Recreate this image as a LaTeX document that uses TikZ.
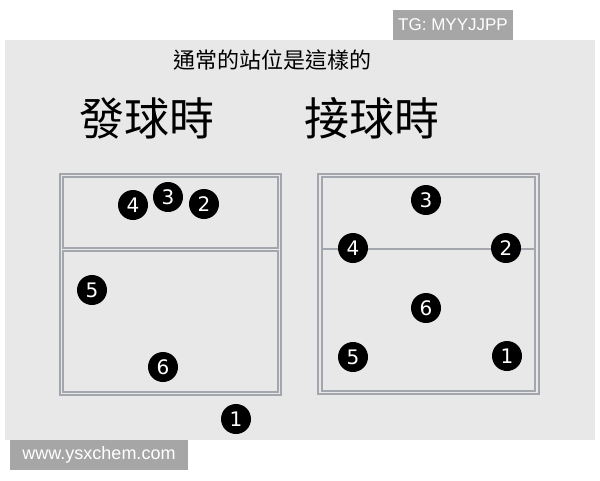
\documentclass[tikz,border=0pt]{standalone}
\usepackage{fontspec}
\setmainfont{Liberation Sans}
\newfontfamily\cjk{Noto Sans CJK TC}
\newfontfamily\digitfont{DejaVu Sans}
\definecolor{panel}{HTML}{E8E8E8}
\definecolor{tagbg}{HTML}{A6A6A6}
\definecolor{courtline}{HTML}{A4A6AE}
\tikzset{
  player/.style={circle, fill=black, minimum size=30pt, inner sep=0pt, text=white, font=\digitfont\fontsize{20}{20}\selectfont},
  courtln/.style={draw=courtline, line width=1.2pt},
  tag/.style={fill=tagbg, text=white, inner sep=0pt, font=\fontsize{17}{17}\selectfont}
}
\begin{document}
\begin{tikzpicture}[x=1pt,y=-1pt]
\useasboundingbox (0,0) rectangle (600,480);
\fill[white] (0,0) rectangle (600,480);
\fill[panel] (5,40) rectangle (595,440);
% tags
\node[tag, minimum width=120pt, minimum height=30pt] (tg) at (453,25) {TG: MYYJJPP};
\node[tag, minimum width=178pt, minimum height=30pt, font=\fontsize{18}{18}\selectfont] (www) at (99,455) {www.ysxchem.com};
% titles
\node (title) at (272,60) {\cjk\fontsize{22}{22}\selectfont 通常的站位是這樣的};
\node (serve) at (147,118) {\cjk\fontsize{45}{45}\selectfont 發球時};
\node (recv) at (372,118) {\cjk\fontsize{45}{45}\selectfont 接球時};
% left court
\draw[courtln] (60,174) rectangle (281,395);
\draw[courtln] (63,177) rectangle (278,248);
\draw[courtln] (63,251) rectangle (278,392);
% right court
\draw[courtln] (318,174) rectangle (539,394);
\draw[courtln] (322,177) rectangle (535,391);
\draw[courtln] (322,249) -- (535,249);
% left players
\node[player] (l4) at (133,205) {4};
\node[player] (l3) at (168,197) {3};
\node[player] (l2) at (204,204) {2};
\node[player] (l5) at (92,290) {5};
\node[player] (l6) at (163,367) {6};
\node[player] (l1) at (236,419) {1};
% right players
\node[player] (r3) at (426,200) {3};
\node[player] (r4) at (353,248) {4};
\node[player] (r2) at (506,248) {2};
\node[player] (r6) at (426,308) {6};
\node[player] (r5) at (353,357) {5};
\node[player] (r1) at (507,356) {1};
\end{tikzpicture}
\end{document}
